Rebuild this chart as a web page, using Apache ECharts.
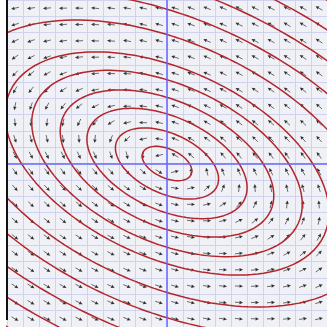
<!DOCTYPE html>
<html>
<head>
<meta charset="utf-8">
<script src="https://cdn.jsdelivr.net/npm/echarts@6/dist/echarts.min.js"></script>
<style>
  html, body { margin: 0; padding: 0; background: #fff; }
  #chart { width: 327px; height: 327px; }
</style>
</head>
<body>
<div id="chart"></div>
<script>
// level function H = a x^2 + b xy + c y^2, coefficients
const formCoef = [1, 1.3, 2.2];
// where each red level curve cuts (or would cut) the horizontal axis
const levelIntercepts = [1.4, 2.9, 4.5, 6.0, 7.6, 9.1, 11.7, 14.0, 16.4, 18.8, 21.2];
// arrow positions, one per grid cell
const cellX = [-9.5, -8.5, -7.5, -6.5, -5.5, -4.5, -3.5, -2.5, -1.5, -0.5, 0.5, 1.5, 2.5, 3.5, 4.5, 5.5, 6.5, 7.5, 8.5, 9.5];
const cellY = [-9.5, -8.5, -7.5, -6.5, -5.5, -4.5, -3.5, -2.5, -1.5, -0.5, 0.5, 1.5, 2.5, 3.5, 4.5, 5.5, 6.5, 7.5, 8.5, 9.5];

const [a, b, c] = formCoef;

// flow runs along the level curves, anticlockwise
function field(x, y) {
  return [-(b * x + 2 * c * y), 2 * a * x + b * y];
}

const arrows = [];
cellX.forEach((x) => {
  cellY.forEach((y) => {
    const v = field(x, y);
    arrows.push([x, y, v[0], v[1]]);
  });
});

const levelSeries = levelIntercepts.map((x0) => {
  const k = a * x0 * x0;
  const pts = [];
  for (let deg = 0; deg <= 360; deg += 2) {
    const t = deg * Math.PI / 180;
    const ct = Math.cos(t), st = Math.sin(t);
    const r = Math.sqrt(k / (a * ct * ct + b * ct * st + c * st * st));
    pts.push([r * ct, r * st]);
  }
  return {
    type: 'line',
    data: pts,
    showSymbol: false,
    clip: true,
    silent: true,
    lineStyle: { color: '#b3262b', width: 1.5 },
    z: 3,
  };
});

const chart = echarts.init(document.getElementById('chart'));

const axisCommon = {
  type: 'value',
  min: -10,
  max: 10,
  interval: 1,
  axisLine: { show: false },
  axisTick: { show: false },
  axisLabel: { show: false },
  splitLine: { lineStyle: { color: '#d0d3ee', width: 1 } },
};

const option = {
  animation: false,
  grid: {
    left: 7,
    top: -1,
    width: 328,
    height: 328,
    show: true,
    backgroundColor: '#f0f1f6',
    borderWidth: 0,
  },
  xAxis: axisCommon,
  yAxis: axisCommon,
  graphic: [
    {
      type: 'line',
      shape: { x1: 7, y1: 0, x2: 7, y2: 320 },
      style: { stroke: '#111', lineWidth: 2 },
      z: 100,
    },
  ],
  series: [
    {
      type: 'custom',
      data: arrows,
      z: 2,
      silent: true,
      markLine: {
        silent: true,
        symbol: 'none',
        label: { show: false },
        lineStyle: { color: '#6666ff', width: 1.5, type: 'solid', opacity: 1 },
        data: [{ xAxis: 0 }, { yAxis: 0 }],
      },
      renderItem: (params, api) => {
        const x = api.value(0), y = api.value(1);
        const vx = api.value(2), vy = api.value(3);
        const p = api.coord([x, y]);
        const n = Math.hypot(vx, vy) || 1;
        const q = api.coord([x + vx / n * 0.1, y + vy / n * 0.1]);
        let ux = q[0] - p[0], uy = q[1] - p[1];
        const m = Math.hypot(ux, uy) || 1;
        ux /= m; uy /= m;
        const L = 8, H = 3.5, W = 1.7;
        const tx = p[0] + ux * L / 2, ty = p[1] + uy * L / 2;
        const sx = p[0] - ux * L / 2, sy = p[1] - uy * L / 2;
        const bx = tx - ux * H, by = ty - uy * H;
        return {
          type: 'group',
          children: [
            {
              type: 'line',
              shape: { x1: sx, y1: sy, x2: bx, y2: by },
              style: { stroke: '#6a6a6a', lineWidth: 1 },
            },
            {
              type: 'polygon',
              shape: { points: [[tx, ty], [bx - uy * W, by + ux * W], [bx + uy * W, by - ux * W]] },
              style: { fill: '#333' },
            },
          ],
        };
      },
    },
    ...levelSeries,
  ],
};

chart.setOption(option);
</script>
</body>
</html>
